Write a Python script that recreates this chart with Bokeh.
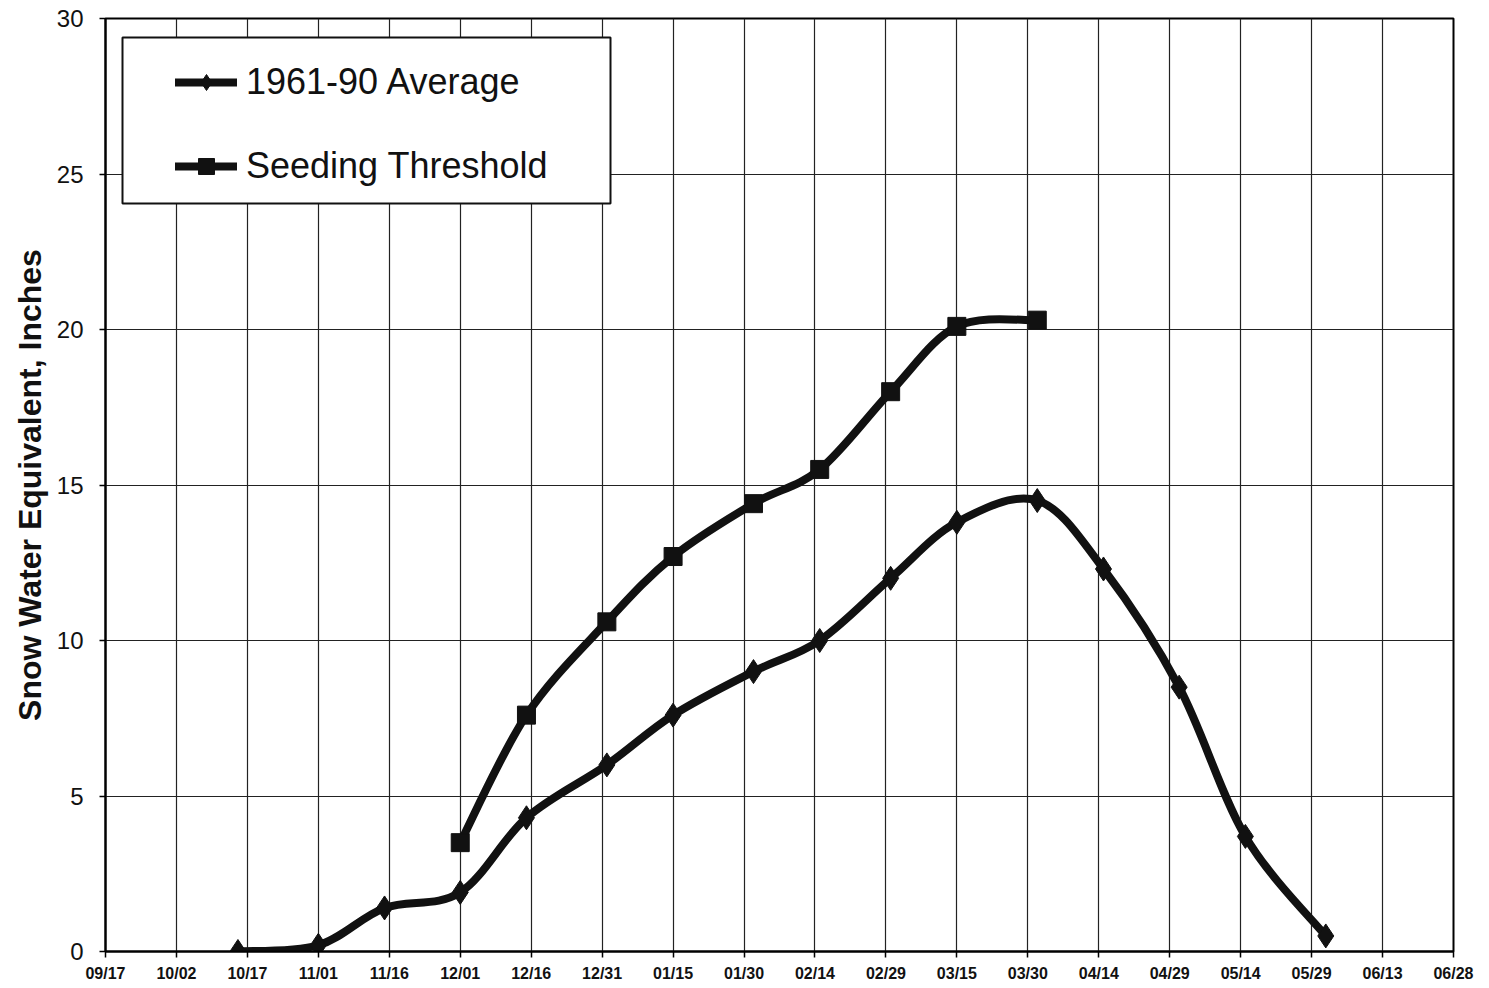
from datetime import datetime
from bokeh.plotting import figure
from bokeh.models import (Range1d, FixedTicker, DatetimeTickFormatter, Legend,
                          LegendItem, BoxAnnotation, ColumnDataSource)
from bokeh.embed import file_html
from bokeh.resources import INLINE

# ---- data ----
tick_dates = ["1995-09-17", "1995-10-02", "1995-10-17", "1995-11-01", "1995-11-16",
              "1995-12-01", "1995-12-16", "1995-12-31", "1996-01-15", "1996-01-30",
              "1996-02-14", "1996-02-29", "1996-03-15", "1996-03-30", "1996-04-14",
              "1996-04-29", "1996-05-14", "1996-05-29", "1996-06-13", "1996-06-28"]

avg_dates = ["1995-10-15", "1995-11-01", "1995-11-15", "1995-12-01", "1995-12-15",
             "1996-01-01", "1996-01-15", "1996-02-01", "1996-02-15", "1996-03-01",
             "1996-03-15", "1996-04-01", "1996-04-15", "1996-05-01", "1996-05-15",
             "1996-06-01"]
avg_swe = [0.0, 0.2, 1.4, 1.9, 4.3, 6.0, 7.6, 9.0, 10.0, 12.0, 13.8, 14.5, 12.3, 8.5, 3.7, 0.5]

seed_dates = ["1995-12-01", "1995-12-15", "1996-01-01", "1996-01-15", "1996-02-01",
              "1996-02-15", "1996-03-01", "1996-03-15", "1996-04-01"]
seed_swe = [3.5, 7.6, 10.6, 12.7, 14.4, 15.5, 18.0, 20.1, 20.3]

y_ticks = [0, 5, 10, 15, 20, 25, 30]

FONT = "Liberation Sans"


def ms(s):
    return (datetime.strptime(s, "%Y-%m-%d") - datetime(1970, 1, 1)).total_seconds() * 1000.0


def smooth_segments(xs, ys):
    """Bezier control points (Catmull-Rom style, like spreadsheet smoothing)."""
    n = len(xs)
    d = dict(x0=[], y0=[], x1=[], y1=[], cx0=[], cy0=[], cx1=[], cy1=[])
    for i in range(n - 1):
        im = i - 1 if i > 0 else i
        ip = i + 2 if i + 2 < n else i + 1
        d["x0"].append(xs[i]); d["y0"].append(ys[i])
        d["x1"].append(xs[i + 1]); d["y1"].append(ys[i + 1])
        d["cx0"].append(xs[i] + (xs[i + 1] - xs[im]) / 6.0)
        d["cy0"].append(ys[i] + (ys[i + 1] - ys[im]) / 6.0)
        d["cx1"].append(xs[i + 1] - (xs[ip] - xs[i]) / 6.0)
        d["cy1"].append(ys[i + 1] - (ys[ip] - ys[i]) / 6.0)
    return ColumnDataSource(d)


avg_x = [ms(s) for s in avg_dates]
seed_x = [ms(s) for s in seed_dates]

W, H = 1480, 986
BL, BT, BR, BB = 105, 18, 27, 35

p = figure(width=W, height=H, x_axis_type="datetime",
           x_range=Range1d(ms(tick_dates[0]), ms(tick_dates[-1])),
           y_range=Range1d(0, 30),
           output_backend="svg", toolbar_location=None,
           min_border_left=BL, min_border_right=BR, min_border_top=BT, min_border_bottom=BB)

p.background_fill_color = "white"
p.border_fill_color = "white"
p.outline_line_color = "black"
p.outline_line_width = 2

# axes
p.xaxis.ticker = FixedTicker(ticks=[ms(s) for s in tick_dates])
fmt = "%m/%d"
p.xaxis.formatter = DatetimeTickFormatter(milliseconds=fmt, seconds=fmt, minsec=fmt, minutes=fmt,
                                          hourmin=fmt, hours=fmt, days=fmt, months=fmt, years=fmt)
p.yaxis.ticker = FixedTicker(ticks=y_ticks)
for ax in (p.xaxis, p.yaxis):
    ax.axis_line_color = "black"
    ax.axis_line_width = 2
    ax.major_tick_line_color = "black"
    ax.major_tick_line_width = 1.5
    ax.major_tick_in = 0
    ax.major_tick_out = 6
    ax.minor_tick_line_color = None
    ax.major_label_text_font = FONT
    ax.major_label_text_color = "#111111"

p.xaxis.major_label_text_font_size = "16px"
p.xaxis.major_label_text_font_style = "bold"
p.xaxis.major_label_standoff = 7

p.yaxis.major_label_text_font_size = "24px"
p.yaxis.major_label_standoff = 16
p.yaxis.axis_label = "Snow Water Equivalent, Inches"
p.yaxis.axis_label_text_font = FONT
p.yaxis.axis_label_text_font_size = "32px"
p.yaxis.axis_label_text_font_style = "bold"
p.yaxis.axis_label_text_color = "#111111"
p.yaxis.axis_label_standoff = 6

# grid
p.xgrid.grid_line_color = "#222222"
p.ygrid.grid_line_color = "#222222"
p.xgrid.grid_line_width = 1.2
p.ygrid.grid_line_width = 1.2

# series
avg_src = smooth_segments(avg_x, avg_swe)
seed_src = smooth_segments(seed_x, seed_swe)

avg_curve = p.bezier(x0="x0", y0="y0", x1="x1", y1="y1", cx0="cx0", cy0="cy0", cx1="cx1", cy1="cy1",
                     source=avg_src, line_color="#111111", line_width=8, line_cap="round",
                     line_join="round")
seed_curve = p.bezier(x0="x0", y0="y0", x1="x1", y1="y1", cx0="cx0", cy0="cy0", cx1="cx1", cy1="cy1",
                      source=seed_src, line_color="#111111", line_width=8, line_cap="round",
                      line_join="round")

avg_pts = p.scatter(x=avg_x, y=avg_swe, marker="diamond", size=24,
                    fill_color="#111111", line_color="#111111")
seed_pts = p.scatter(x=seed_x, y=seed_swe, marker="square", size=18,
                     fill_color="#111111", line_color="#111111")

# legend box
frame_h = H - BT - BB
box = BoxAnnotation(left=17, right=505, top=frame_h - 19, bottom=frame_h - 185,
                    left_units="screen", right_units="screen",
                    top_units="screen", bottom_units="screen",
                    fill_color="white", fill_alpha=1.0,
                    line_color="#111111", line_alpha=1.0, line_width=2)
p.add_layout(box)

legend = Legend(items=[LegendItem(label="1961-90 Average", renderers=[avg_curve, avg_pts]),
                       LegendItem(label="Seeding Threshold", renderers=[seed_curve, seed_pts])],
                location=(70, frame_h - 169),
                padding=0, spacing=42, glyph_width=62, glyph_height=40, label_height=40,
                label_standoff=9, label_text_font=FONT, label_text_font_size="36px",
                label_text_color="#111111",
                background_fill_alpha=0, border_line_alpha=0)
p.add_layout(legend)

open("out.html", "w").write(file_html(p, INLINE))
